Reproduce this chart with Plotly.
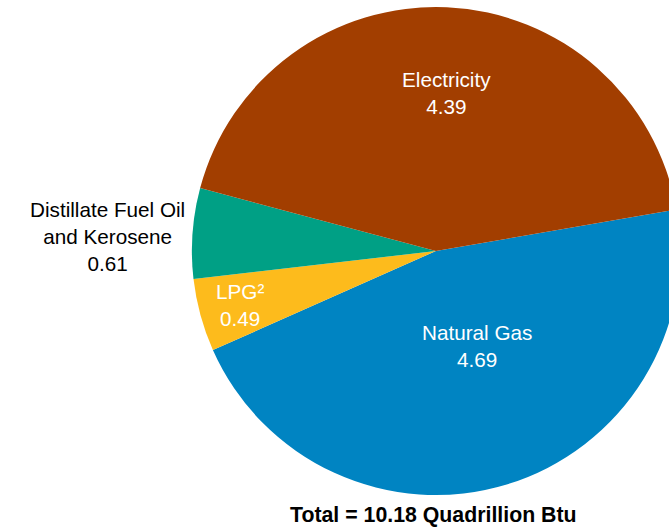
import plotly.graph_objects as go

labels = ["Natural Gas", "LPG²", "Distillate Fuel Oil<br>and Kerosene", "Electricity"]
values = [4.69, 0.49, 0.61, 4.39]
colors = ["#0084C2", "#FDBB1C", "#00A085", "#A23E00"]
total_text = "Total = 10.18 Quadrillion Btu"

# label placement (paper coordinates) and colours -- styling only
label_pos = [(0.7010, 0.3057), (0.3529, 0.3893), (0.1578, 0.5307), (0.6559, 0.8232)]
label_colors = ["white", "white", "black", "white"]

FONT = "Liberation Sans, Arial, sans-serif"

fig = go.Figure(go.Pie(
    labels=labels,
    values=values,
    sort=False,
    direction="clockwise",
    rotation=80.2,
    marker=dict(colors=colors, line=dict(width=0)),
    textinfo="none",
    hoverinfo="label+value",
    showlegend=False,
    domain=dict(x=[0.282, 1.0], y=[0, 1]),
))

for lab, val, (px, py), col in zip(labels, values, label_pos, label_colors):
    fig.add_annotation(
        text=f"{lab}<br>{val:.2f}",
        xref="paper", yref="paper", x=px, y=py,
        xanchor="center", yanchor="middle", showarrow=False,
        align="center",
        font=dict(family=FONT, size=20.7, color=col),
    )

fig.add_annotation(
    text="<b>" + total_text + "</b>",
    xref="paper", yref="paper", x=0.6379, y=-0.0405,
    xanchor="center", yanchor="middle", showarrow=False,
    borderpad=0,
    font=dict(family=FONT, size=21.3, color="black"),
)

fig.update_layout(
    width=680, height=527, autosize=False,
    margin=dict(l=0, r=0, t=7, b=32),
    paper_bgcolor="white", plot_bgcolor="white",
    font=dict(family=FONT),
)

fig.write_html(
    "out.html",
    config={"displayModeBar": False},
    post_script="document.body.style.margin='0';document.body.style.overflow='hidden';document.documentElement.style.overflow='hidden';",
)
